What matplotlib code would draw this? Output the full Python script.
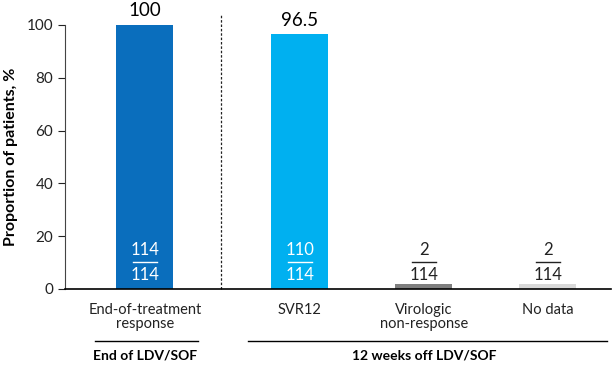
import matplotlib.pyplot as plt
from matplotlib import transforms

plt.rcParams['font.family'] = ['Lato', 'DejaVu Sans']

categories = ["End-of-treatment\nresponse", "SVR12", "Virologic\nnon-response", "No data"]
values = [100, 96.5, 1.75, 1.75]
numerators = [114, 110, 2, 2]
denominators = [114, 114, 114, 114]
top_labels = ["100", "96.5", None, None]
colors = ["#0a6ebd", "#00b0f0", "#7f7f7f", "#d9d9d9"]
groups = ["End of LDV/SOF", "12 weeks off LDV/SOF"]

xpos = [0, 1.25, 2.25, 3.25]

fig = plt.figure(figsize=(6.13, 3.66), dpi=100)
ax = fig.add_axes([65/613, 77/366, 546/613, 264/366])

ax.bar(xpos, values, width=0.46, color=colors)
ax.set_xlim(-0.645, 3.76)
ax.set_ylim(0, 100)
ax.set_yticks([0, 20, 40, 60, 80, 100])
ax.tick_params(axis='y', labelsize=11, length=5, colors='#222222')
ax.set_ylabel("Proportion of patients, %", fontsize=11.5, fontweight='bold', labelpad=6)
ax.set_xticks(xpos)
ax.set_xticklabels(categories, fontsize=10.5, color='#222222', linespacing=1.05)
ax.tick_params(axis='x', length=0, pad=10)
for s in ['top', 'right']:
    ax.spines[s].set_visible(False)
ax.spines['left'].set_color('#444444')
ax.spines['bottom'].set_linewidth(1.2)

# value labels above the first two bars
for x, v, t in zip(xpos, values, top_labels):
    if t:
        ax.annotate(t, (x, v), xytext=(0, 4), textcoords='offset points',
                    ha='center', va='bottom', fontsize=13.5)

# n/N fractions
for i, (x, n, d) in enumerate(zip(xpos, numerators, denominators)):
    c = 'white' if i < 2 else '#222222'
    ax.text(x, 14.8, str(n), ha='center', va='center', fontsize=12, color=c)
    ax.text(x, 5.3, str(d), ha='center', va='center', fontsize=12, color=c)
    ax.plot([x - 0.095, x + 0.095], [10.3, 10.3], color=c, lw=1)

# dashed divider
ax.plot([0.613, 0.613], [0, 104], ls=(0, (2, 1.5)), color='#222222', lw=0.9, clip_on=False)

# group brackets below the axis
trans = transforms.blended_transform_factory(ax.transData, ax.transAxes)
ax.plot([-0.40, 0.43], [-0.197, -0.197], color='black', lw=1, transform=trans, clip_on=False)
ax.plot([0.83, 3.73], [-0.197, -0.197], color='black', lw=1, transform=trans, clip_on=False)
ax.text(0.0, -0.25, groups[0], transform=trans, ha='center', va='center', fontsize=10, fontweight='bold')
ax.text(2.25, -0.25, groups[1], transform=trans, ha='center', va='center', fontsize=10, fontweight='bold')

fig.savefig("out.png", dpi=100)
